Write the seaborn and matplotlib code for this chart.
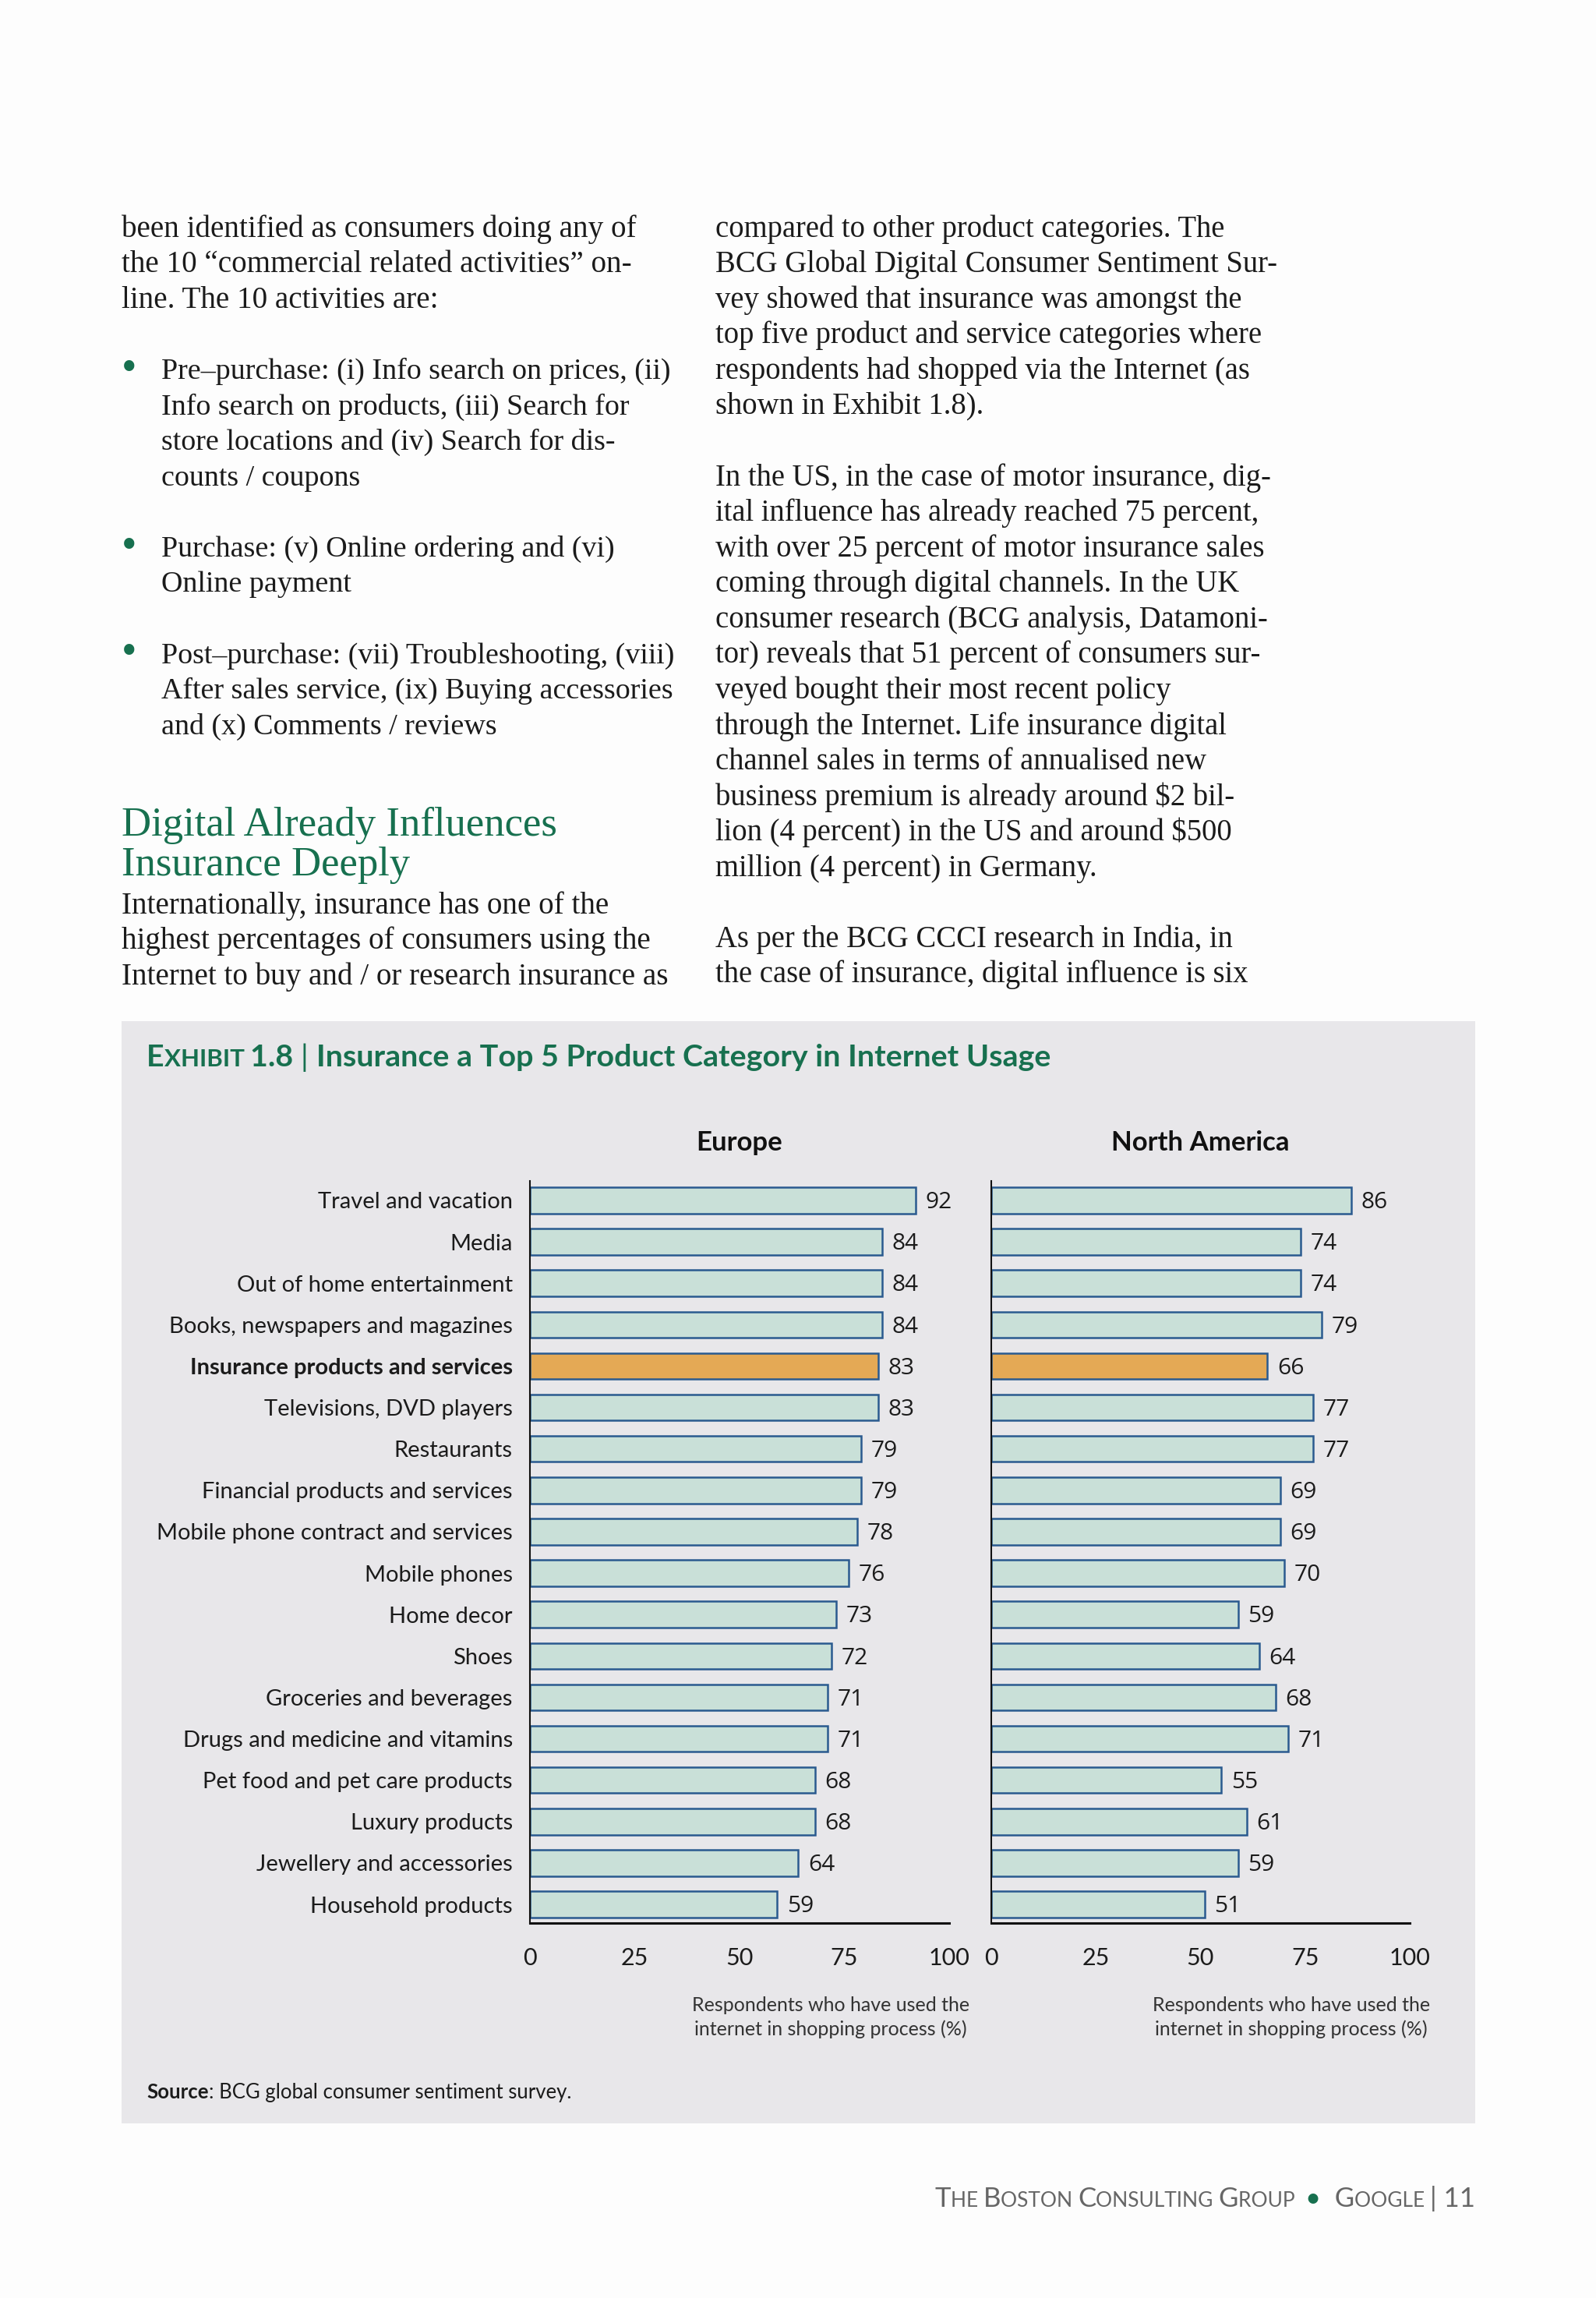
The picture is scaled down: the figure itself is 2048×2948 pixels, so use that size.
import matplotlib
matplotlib.use("Agg")
import matplotlib.pyplot as plt
import matplotlib.transforms as mtransforms
from matplotlib.patches import Rectangle
import seaborn as sns
import pandas as pd

# ---------------- data ----------------
categories = [
    "Travel and vacation", "Media", "Out of home entertainment",
    "Books, newspapers and magazines", "Insurance products and services",
    "Televisions, DVD players", "Restaurants", "Financial products and services",
    "Mobile phone contract and services", "Mobile phones", "Home decor", "Shoes",
    "Groceries and beverages", "Drugs and medicine and vitamins",
    "Pet food and pet care products", "Luxury products",
    "Jewellery and accessories", "Household products",
]
europe = [92, 84, 84, 84, 83, 83, 79, 79, 78, 76, 73, 72, 71, 71, 68, 68, 64, 59]
north_america = [86, 74, 74, 79, 66, 77, 77, 69, 69, 70, 59, 64, 68, 71, 55, 61, 59, 51]
highlight = "Insurance products and services"
panel_titles = ["Europe", "North America"]
x_ticks = [0, 25, 50, 75, 100]
x_label_lines = ["Respondents who have used the", "internet in shopping process (%)"]

left_col = [
    (0, "been identified as consumers doing any of", False),
    (1, "the 10 \u201ccommercial related activities\u201d on-", False),
    (2, "line. The 10 activities are:", False),
    (4, "Pre\u2013purchase: (i) Info search on prices, (ii)", True),
    (5, "Info search on products, (iii) Search for", None),
    (6, "store locations and (iv) Search for dis-", None),
    (7, "counts / coupons", None),
    (9, "Purchase: (v) Online ordering and (vi)", True),
    (10, "Online payment", None),
    (12, "Post\u2013purchase: (vii) Troubleshooting, (viii)", True),
    (13, "After sales service, (ix) Buying accessories", None),
    (14, "and (x) Comments / reviews", None),
    (19.05, "Internationally, insurance has one of the", False),
    (20.05, "highest percentages of consumers using the", False),
    (21.05, "Internet to buy and / or research insurance as", False),
]
right_col = [
    "compared to other product categories. The",
    "BCG Global Digital Consumer Sentiment Sur-",
    "vey showed that insurance was amongst the",
    "top five product and service categories where",
    "respondents had shopped via the Internet (as",
    "shown in Exhibit 1.8).",
    "",
    "In the US, in the case of motor insurance, dig-",
    "ital influence has already reached 75 percent,",
    "with over 25 percent of motor insurance sales",
    "coming through digital channels. In the UK",
    "consumer research (BCG analysis, Datamoni-",
    "tor) reveals that 51 percent of consumers sur-",
    "veyed bought their most recent policy",
    "through the Internet. Life insurance digital",
    "channel sales in terms of annualised new",
    "business premium is already around $2 bil-",
    "lion (4 percent) in the US and around $500",
    "million (4 percent) in Germany.",
    "",
    "As per the BCG CCCI research in India, in",
    "the case of insurance, digital influence is six",
]
heading = ["Digital Already Influences", "Insurance Deeply"]

# ---------------- styling ----------------
W, H = 2048, 2948
GREEN = "#17704f"
PANEL = "#e8e7ea"
BAR_FILL = "#c9e0d8"
BAR_HI = "#e4a955"
BAR_EDGE = "#2a5a8f"
TXT = "#1b1b1b"
SANS = ["Lato", "DejaVu Sans"]
SERIF = ["Liberation Serif", "DejaVu Serif"]

sns.set_theme(style="white")
plt.rcParams["font.family"] = SANS

fig = plt.figure(figsize=(W / 100, H / 100), dpi=100)
fig.patch.set_facecolor("#fdfdfd")
ident = mtransforms.IdentityTransform()


def fx(x):
    return x / W


def fy(y):
    return 1 - y / H


# panel background
fig.patches.append(Rectangle((fx(156), fy(2724)), fx(1893) - fx(156), (2724 - 1310) / H,
                             transform=fig.transFigure, facecolor=PANEL, edgecolor="none",
                             zorder=-5))

# ---------------- body text ----------------
BODY_FS = 28.2
LS = 24.2 * 2048 / 1088


def base_y(k):
    return 155 * 2048 / 1088 + LS * k + 12


for k, s, bullet in left_col:
    if bullet:
        fig.text(fx(156), fy(base_y(k) + 2), "\u2022", color=GREEN, fontsize=BODY_FS + 12,
                 family=SERIF, va="baseline")
    x = 156 if bullet is False else 207
    fs = BODY_FS if bullet is False else BODY_FS - 0.8
    fig.text(fx(x), fy(base_y(k)), s, color=TXT, fontsize=fs, family=SERIF, va="baseline")

for k, s in enumerate(right_col):
    if s:
        fig.text(fx(918), fy(base_y(k)), s, color=TXT, fontsize=BODY_FS - 0.4, family=SERIF,
                 va="baseline")

fig.text(fx(156), fy(1072), heading[0], color=GREEN, fontsize=38, family=SERIF, va="baseline")
fig.text(fx(156), fy(1123), heading[1], color=GREEN, fontsize=38, family=SERIF, va="baseline")

renderer = fig.canvas.get_renderer()


def draw_runs(x_px, y_px, runs, ha="left"):
    texts = []
    widths = []
    for s, kw in runs:
        t = fig.text(0, 0, s, transform=ident, va="baseline", **kw)
        widths.append(t.get_window_extent(renderer).width)
        texts.append(t)
    total = sum(widths)
    x = x_px - total if ha == "right" else x_px
    for t, w in zip(texts, widths):
        t.set_position((x, H - y_px))
        x += w


# exhibit title
tk = dict(color=GREEN, fontweight="bold", family=SANS)
draw_runs(188, 1368, [
    ("E", dict(fontsize=28.4, **tk)),
    ("XHIBIT ", dict(fontsize=22.5, **tk)),
    ("1.8 ", dict(fontsize=28.4, **tk)),
    ("| ", dict(fontsize=28.4, color=GREEN, family=SANS)),
    ("Insurance a Top 5 Product Category in Internet Usage", dict(fontsize=28.4, **tk)),
])

# footer
fk = dict(color="#666666", fontweight="normal", family=SANS)
BIG, SMALL = 25, 19
draw_runs(1893, 2831, [
    ("T", dict(fontsize=BIG, **fk)), ("HE ", dict(fontsize=SMALL, **fk)),
    ("B", dict(fontsize=BIG, **fk)), ("OSTON ", dict(fontsize=SMALL, **fk)),
    ("C", dict(fontsize=BIG, **fk)), ("ONSULTING ", dict(fontsize=SMALL, **fk)),
    ("G", dict(fontsize=BIG, **fk)), ("ROUP  ", dict(fontsize=SMALL, **fk)),
    ("\u2022", dict(fontsize=BIG, color=GREEN, family=SANS)),
    ("  G", dict(fontsize=BIG, **fk)), ("OOGLE ", dict(fontsize=SMALL, **fk)),
    ("| 11", dict(fontsize=BIG, **fk)),
], ha="right")

# source
draw_runs(188, 2692, [
    ("Source", dict(fontsize=18.5, fontweight="bold", color=TXT, family=SANS)),
    (": BCG global consumer sentiment survey.", dict(fontsize=18.5, color=TXT, family=SANS)),
])

# ---------------- charts ----------------
ax_bottom = fy(2467)
ax_height = (2467 - 1515) / H
axes = [
    fig.add_axes([fx(680), ax_bottom, (1218 - 680) / W, ax_height]),
    fig.add_axes([fx(1272), ax_bottom, (1809 - 1272) / W, ax_height]),
]
palette = {c: (BAR_HI if c == highlight else BAR_FILL) for c in categories}

for i, (ax, vals, title) in enumerate(zip(axes, [europe, north_america], panel_titles)):
    df = pd.DataFrame({"category": categories, "value": vals})
    sns.barplot(data=df, x="value", y="category", hue="category", palette=palette,
                legend=False, width=0.63, edgecolor=BAR_EDGE, linewidth=1.8,
                orient="h", ax=ax, saturation=1)
    ax.set_facecolor("none")
    ax.set_xlim(0, 100)
    ax.set_ylim(17.45, -0.47)
    ax.set_xticks(x_ticks)
    ax.set_xticklabels([str(t) for t in x_ticks], fontsize=22, color=TXT)
    ax.tick_params(axis="x", length=0, pad=22)
    ax.tick_params(axis="y", length=0, pad=16)
    ax.set_xlabel("")
    ax.set_ylabel("")
    for side in ["top", "right"]:
        ax.spines[side].set_visible(False)
    ax.spines["left"].set_color("#111111")
    ax.spines["left"].set_linewidth(1.5)
    ax.spines["bottom"].set_color("#111111")
    ax.spines["bottom"].set_linewidth(2.2)
    ax.set_yticks(range(len(categories)))
    if i == 0:
        ax.set_yticklabels(categories, fontsize=21, color=TXT)
        for lab in ax.get_yticklabels():
            if lab.get_text() == highlight:
                lab.set_fontweight("bold")
    else:
        ax.set_yticklabels([])
    for j, v in enumerate(vals):
        ax.annotate(str(v), (v, j), xytext=(9, -2), textcoords="offset points",
                    va="center", ha="left", fontsize=21.5, color=TXT,
                    family=["Open Sans", "DejaVu Sans"])
    ax.set_title(title, fontsize=25, fontweight="bold", color="#111111", pad=28)
    ax.text(0.717, -0.111, x_label_lines[0], transform=ax.transAxes, ha="center", va="center",
            fontsize=18, color="#333333")
    ax.text(0.717, -0.143, x_label_lines[1], transform=ax.transAxes, ha="center", va="center",
            fontsize=18, color="#333333")

fig.savefig("out.png", dpi=100, facecolor=fig.get_facecolor())
